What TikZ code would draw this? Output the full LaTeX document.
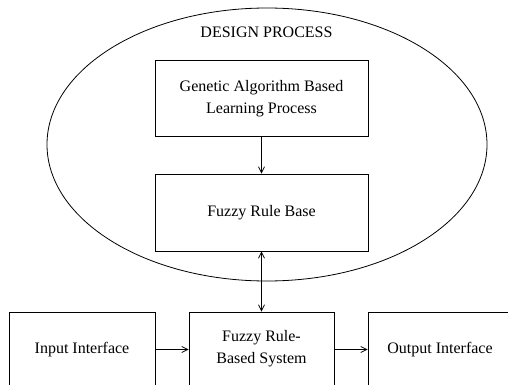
\documentclass[tikz,border=0pt]{standalone}
\usepackage{fontspec}
\setmainfont{Liberation Serif}
\usetikzlibrary{arrows.meta,shapes.geometric}
\begin{document}
\begin{tikzpicture}[x=1pt,y=-1pt,
  lbl/.style={font=\fontsize{16}{22}\selectfont},
  box/.style={draw,line width=0.8pt,rectangle,inner sep=0pt,align=center,lbl},
  arr/.style={line width=0.8pt,-{Straight Barb[length=6pt,width=6pt]}},
  darr/.style={line width=0.8pt,{Straight Barb[length=6pt,width=6pt]}-{Straight Barb[length=6pt,width=6pt]}}]
\useasboundingbox (0,0) rectangle (508,385);
\clip (0,0) rectangle (508,385);
\fill[white] (0,0) rectangle (508,385);
\node[draw,line width=0.8pt,ellipse,inner sep=0pt,minimum width=440pt,minimum height=273pt] (design) at (267,144.5) {};
\node[lbl] (title) at (266.5,32) {DESIGN PROCESS};
\node[box,minimum width=213pt,minimum height=76pt] (ga) at (261.5,98.5) {Genetic Algorithm Based\\Learning Process};
\node[box,minimum width=213pt,minimum height=77pt] (frb) at (261.5,212.5) {Fuzzy Rule Base};
\node[box,minimum width=146pt,minimum height=75pt] (in) at (82,349.5) {Input Interface};
\node[box,minimum width=145pt,minimum height=73pt] (sys) at (261.5,348.5) {Fuzzy Rule-\\Based System};
\node[box,minimum width=144pt,minimum height=75pt] (out) at (440,349.5) {Output Interface};
\draw[arr] (ga.south) -- (frb.north);
\draw[darr] (frb.south) -- (sys.north);
\draw[arr] (in.east) -- (in.east -| sys.west);
\draw[arr] (in.east -| sys.east) -- (in.east -| out.west);
\end{tikzpicture}
\end{document}
